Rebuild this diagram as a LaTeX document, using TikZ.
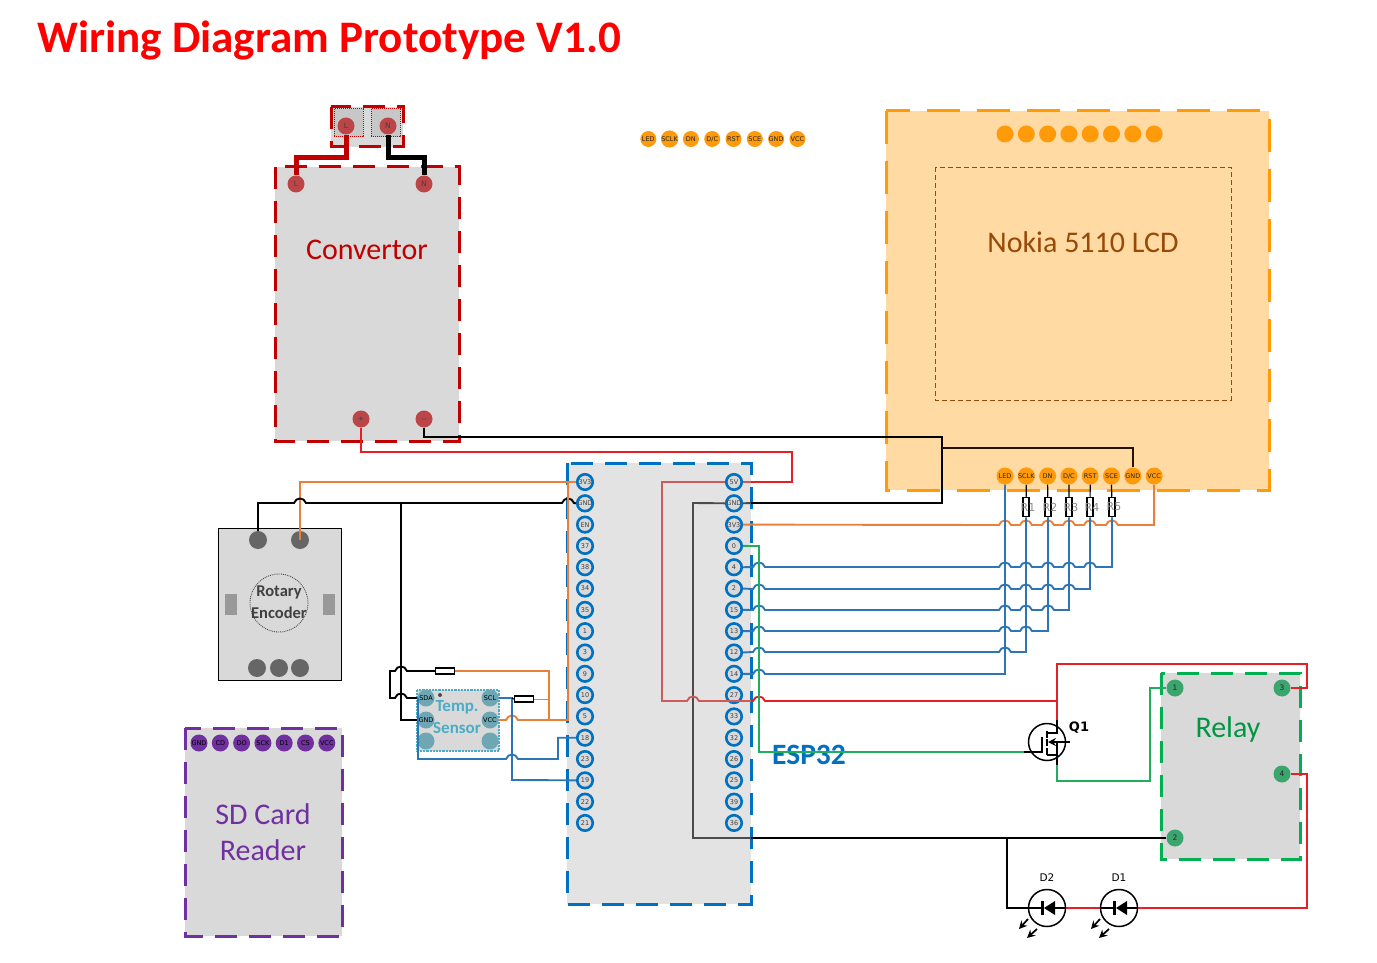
\documentclass[tikz,border=0pt]{standalone}
\usepackage{fontspec}
\setmainfont{Carlito}
\newfontfamily\pinfont{DejaVu Sans}
\usetikzlibrary{arrows.meta}
\definecolor{boxgray}{HTML}{D9D9D9}
\definecolor{espblue}{HTML}{0070C0}
\definecolor{wireblue}{HTML}{2E75B6}
\definecolor{wireorange}{HTML}{E9803A}
\definecolor{wirered}{HTML}{E81E25}
\definecolor{wirein}{HTML}{CF5A5A}
\definecolor{wiregreen}{HTML}{1FAE5B}
\definecolor{convred}{HTML}{C00000}
\definecolor{convpin}{HTML}{BC4548}
\definecolor{lcdfill}{HTML}{FFDAA3}
\definecolor{lcdline}{HTML}{FF9A0A}
\definecolor{lcdtext}{HTML}{984807}
\definecolor{relayline}{HTML}{00B050}
\definecolor{relaypin}{HTML}{3BA56E}
\definecolor{sdpurple}{HTML}{7030A0}
\definecolor{templine}{HTML}{4BACC6}
\definecolor{temppin}{HTML}{6FA6B4}
\newcommand{\hopr}[2]{-- (#1-6,#2) .. controls (#1-4,#2-6) and (#1+4,#2-6) .. (#1+6,#2)}
\newcommand{\hopl}[2]{-- (#1+6,#2) .. controls (#1+4,#2-6) and (#1-4,#2-6) .. (#1-6,#2)}
\newcommand{\fsize}[1]{\fontsize{#1}{#1}\selectfont}
\tikzset{
  dashbox/.style={line width=3pt,dash pattern=on 22pt off 12pt,fill=boxgray},
  pinbase/.style={circle,minimum size=17pt,inner sep=0pt,text height=4.8pt,text depth=0pt,text=black!85},
  esppin/.style={pinbase,draw=espblue,line width=2.6pt,fill=boxgray,minimum size=15.5pt,font=\pinfont\fsize{6.5},text=black!75},
  lcdpin/.style={pinbase,fill=lcdline,font=\pinfont\fsize{6.5}},
  sdpin/.style={pinbase,fill=sdpurple,font=\pinfont\fsize{6.5},text=black},
  convpin/.style={pinbase,fill=convpin,font=\pinfont\fsize{7.5},text=black!75},
  relaypin/.style={pinbase,fill=relaypin,font=\pinfont\fsize{7.5}},
  temppin/.style={pinbase,fill=temppin,font=\pinfont\fsize{6.5},text=black},
  rotpin/.style={circle,fill=black!60,minimum size=18pt,inner sep=0pt},
  res/.style={draw=black,line width=1.5pt,fill=white,inner sep=0pt,minimum width=6pt,minimum height=19pt},
  hres/.style={draw=black,line width=1.4pt,fill=white,inner sep=0pt,minimum width=19pt,minimum height=6pt},
  wire/.style={line width=1.9pt},
  bluewire/.style={wire,draw=wireblue},
  orangewire/.style={wire,draw=wireorange},
  redwire/.style={wire,draw=wirered},
  greenwire/.style={wire,draw=wiregreen},
  blackwire/.style={wire,draw=black},
  bigtext/.style={font=\fsize{30}},
  symbol/.style={circle,draw=black,line width=1.5pt,minimum size=37pt,inner sep=0pt},
}
\begin{document}
\begin{tikzpicture}[x=1pt,y=-1pt,>={Stealth[length=8pt,width=8pt]}]
\useasboundingbox (0,0) rectangle (1377,963);
\node[anchor=west,text=red,font=\bfseries\fsize{45.1},inner sep=0pt] (title) at (37,40) {Wiring Diagram Prototype V1.0};

% boxes
\draw[dashbox,draw=convred] (275,167) rectangle (459,441);
\draw[dashbox,draw=convred] (331,107) rectangle (403,147);
\draw[densely dotted,draw=convred,line width=1pt,fill=black!22] (334,109) rectangle (363,137);
\draw[densely dotted,draw=convred,line width=1pt,fill=black!22] (371,109) rectangle (400,137);
\draw[dashbox,draw=lcdline,fill=lcdfill,dash pattern=on 33pt off 17pt] (886,111) rectangle (1269,490);
\draw[draw=lcdtext,line width=.8pt,dash pattern=on 5pt off 3pt] (935,167) rectangle (1231,400);
\draw[dashbox,draw=espblue,fill=black!11] (567,463) rectangle (751,904);
\draw[dashbox,draw=relayline] (1161,673) rectangle (1300,859);
\draw[dashbox,draw=sdpurple] (185,728) rectangle (342,936);
\draw[draw=black,line width=1pt,fill=boxgray] (218,528) rectangle (341,680);
\fill[black!40] (225,594) rectangle (237,615);
\fill[black!40] (323,594) rectangle (335,615);
\draw[densely dotted,draw=black!70,line width=.9pt] (279,603) circle[radius=29];
\draw[densely dotted,draw=templine,line width=2.2pt,fill=boxgray] (417,690) rectangle (499,751);

% texts
\node[bigtext,text=convred] (convlabel) at (367,250) {Convertor};
\node[bigtext,text=lcdtext] (lcdlabel) at (1083,242) {Nokia 5110 LCD};
\node[bigtext,text=relayline!85!black] (relaylabel) at (1228,729) {Relay};
\node[bigtext,text=sdpurple] (sdlabel1) at (263,814) {SD Card};
\node[bigtext,text=sdpurple] (sdlabel2) at (263,850) {Reader};
\node[text=espblue,font=\bfseries\fsize{29.5}] (esplabel) at (809,755) {ESP32};

% pins
\node[convpin] (plugL) at (346,126) {L};
\node[convpin] (plugN) at (388,126) {N};
\node[convpin] (convL) at (296,184) {L};
\node[convpin] (convN) at (424,184) {N};
\node[convpin] (convP) at (361,419) {+};
\node[convpin] (convM) at (424,419) {--};
\foreach \t [count=\i] in {3V3,GND,EN,37,38,34,35,1,3,9,10,5,18,23,19,22,21}
  \node[esppin] (el-\t) at (585,482+21.31*\i-21.31) {\t};
\foreach \t [count=\i] in {5V,GND,3V3,0,4,2,15,13,12,14,27,33,32,26,25,39,36}
  \node[esppin] (er-\t) at (734,482+21.31*\i-21.31) {\t};
\foreach \t [count=\i] in {LED,SCLK,DN,D/C,RST,SCE,GND,VCC} {
  \node[lcdpin,minimum size=16pt] (top-\i) at (627+21.3*\i,139) {\t};
  \node[lcdpin] (dot-\i) at (983.7+21.3*\i,134) {};
  \node[lcdpin] (lcd-\i) at (983.7+21.3*\i,476) {\t};
}
\foreach \t [count=\i] in {GND,CD,DO,SCK,D1,CS,VCC}
  \node[sdpin] (sd-\i) at (177.7+21.3*\i,743) {\t};
\node[relaypin] (rel1) at (1175,688) {1};
\node[relaypin] (rel3) at (1282,688) {3};
\node[relaypin] (rel4) at (1282,774) {4};
\node[relaypin] (rel2) at (1175,838) {2};
\node[rotpin] (rotA) at (258,540) {};
\node[rotpin] (rotB) at (300,540) {};
\node[rotpin] (rotC) at (257,668) {};
\node[rotpin] (rotD) at (279,668) {};
\node[rotpin] (rotE) at (300,668) {};
\node[temppin] (tSDA) at (426,698) {SDA};
\node[temppin] (tGND) at (426,720) {GND};
\node[temppin] (tX) at (426,741) {};
\node[temppin] (tSCL) at (490,698) {SCL};
\node[temppin] (tVCC) at (490,720) {VCC};
\node[temppin] (tY) at (490,741) {};
\fill[black!70] (440,695) circle[radius=2];
\node[text=templine,font=\bfseries\fsize{17}] (templabel1) at (457,707) {Temp.};
\node[text=templine,font=\bfseries\fsize{17}] (templabel2) at (457,728) {Sensor};
\node[text=black!75,font=\bfseries\fsize{16.5}] (rotlabel1) at (279,592) {Rotary};
\node[text=black!75,font=\bfseries\fsize{16.5}] (rotlabel2) at (279,613) {Encoder};

% resistors
\foreach \n/\x in {1/1026,2/1048,3/1069,4/1090,5/1112} {
  \node[res] (r\n) at (\x,507) {};
  \draw[blackwire,line width=1.2pt] (lcd-\the\numexpr\n+1\relax.south) -- (r\n);
  \node[text=black!45,font=\pinfont\fsize{11}] (rl\n) at (\x+2,507) {R\n};
}
\node[hres] (rA) at (445,671) {};
\node[hres] (rB) at (524,699) {};

% mains
\draw[line width=5pt,draw=convred] (plugL.south) |- (346,158) -| (convL.north);
\draw[line width=5pt,draw=black] (plugN.south) |- (388,158) -| (convN.north);

% power
\draw[blackwire] (convM.south) |- (942,437) -- (942,503) -- (751,503);
\draw[wire,draw=black!70] (751,503) -- (er-GND.east);
\draw[wire,draw=black!70] (er-GND.west) -- (693,503) -- (693,838) -- (751,838);
\draw[blackwire] (751,838) -- (rel2.west);
\draw[wire,draw=black!75!lcdtext] (lcd-7.north) |- (942,448);
\draw[redwire] (convP.south) |- (792,452) |- (751,482);
\draw[wire,draw=wirein] (751,482) -- (er-5V.east);
\draw[wire,draw=wirein] (er-5V.west) -- (662,482) -- (662,701) \hopr{693}{701} -- (751,701);
\draw[redwire] (751,701) \hopr{759}{701} -- (1057,701);
\draw[redwire] (1057,701) -- (1057,664) -- (1307,664) |- (rel3.east);
\draw[orangewire] (er-3V3.east) \hopr{1005}{525} \hopr{1026}{525} \hopr{1048}{525} \hopr{1069}{525} \hopr{1090}{525} \hopr{1112}{525} -| (lcd-8.south);

% lcd signals
\draw[bluewire] (lcd-1.south) |- (765,674) \hopl{759}{674} -- (er-14.east);
\draw[bluewire] (r1.south) -- (1026,652) \hopl{1005}{652} \hopl{759}{652} -- (er-12.east);
\draw[bluewire] (r2.south) -- (1048,631) \hopl{1026}{631} \hopl{1005}{631} \hopl{759}{631} -- (er-13.east);
\draw[bluewire] (r3.south) -- (1069,610) \hopl{1048}{610} \hopl{1026}{610} \hopl{1005}{610} \hopl{759}{610} -- (er-15.east);
\draw[bluewire] (r4.south) -- (1090,589) \hopl{1069}{589} \hopl{1048}{589} \hopl{1026}{589} \hopl{1005}{589} \hopl{759}{589} -- (er-2.east);
\draw[bluewire] (r5.south) -- (1112,567) \hopl{1090}{567} \hopl{1069}{567} \hopl{1048}{567} \hopl{1026}{567} \hopl{1005}{567} \hopl{759}{567} -- (er-4.east);

% green
\draw[greenwire] (er-0.east) -- (759,546) -- (759,752) -- (1024,752);
\draw[greenwire] (1057,765) -- (1057,781) -- (1150,781) |- (rel1.west);

% rotary and sensor
\draw[orangewire] (el-3V3.west) -| (rotB.center);
\draw[blackwire] (rotA.north) |- (294,503) \hopr{300}{503} \hopr{568}{503} -- (el-GND.west);
\draw[blackwire] (401,503) -- (401,720) -- (tGND.west);
\draw[blackwire] (rA.west) \hopl{401}{671} -- (390,671) -- (390,698) \hopr{401}{698} -- (tSDA.west);
\draw[orangewire] (rA.east) -- (549,671) -- (549,720);
\draw[orangewire,line width=1pt] (rB.east) -- (549,699);
\draw[orangewire] (tVCC.east) \hopr{512}{720} -- (568,720) -- (568,482);
\draw[bluewire] (tSCL.east) -- (512,698) -- (512,780) -- (el-19.west);
\draw[blackwire,line width=1.2pt] (512,698) -- (rB.west);
\draw[bluewire] (418,698) -- (418,759) \hopr{512}{759} -- (558,759) |- (el-18.west);

% Q1
\node[symbol] (q1) at (1047,742) {};
\node[font=\pinfont\bfseries\fsize{13}] (q1label) at (1079,728) {Q1};
\draw[line width=1.5pt] (1024,752) -- (1042,752) -- (1042,737);
\draw[line width=1.5pt] (1047,731) -- (1047,738) (1047,739) -- (1047,746) (1047,748) -- (1047,755);
\draw[line width=1.5pt] (1047,733) -- (1057,733) -- (1057,720);
\draw[line width=1.5pt] (1047,755) -- (1057,755) -- (1057,765);
\draw[line width=1.5pt] (1057,755) -- (1057,742);
\draw[line width=1.5pt,->] (1070,742) -- (1048,742);
\draw[redwire,line width=2.2pt] (1057,701) -- (1057,720);

% leds
\node[symbol] (d2) at (1047,908) {};
\node[symbol] (d1) at (1119,908) {};
\node[font=\pinfont\fsize{10.5}] (d2label) at (1047,878) {D2};
\node[font=\pinfont\fsize{10.5}] (d1label) at (1119,878) {D1};
\foreach \d in {d1,d2} {
  \begin{scope}[shift={(\d)}]
    \draw[line width=3pt] (-5,-7) -- (-5,7);
    \fill (-3,0) -- (8,-7) -- (8,7) -- cycle;
    \draw[line width=1.5pt] (-18,0) -- (-5,0) (8,0) -- (18,0);
    \draw[line width=1.7pt,->] (-19,11) -- (-28,21);
    \draw[line width=1.7pt,->] (-10,21) -- (-20,30);
  \end{scope}
}
\draw[blackwire] (1007,838) -- (1007,908) -- (d2.west);
\draw[redwire] (d2.east) -- (d1.west);
\draw[redwire] (d1.east) -- (1307,908) |- (rel4.east);
\end{tikzpicture}
\end{document}
